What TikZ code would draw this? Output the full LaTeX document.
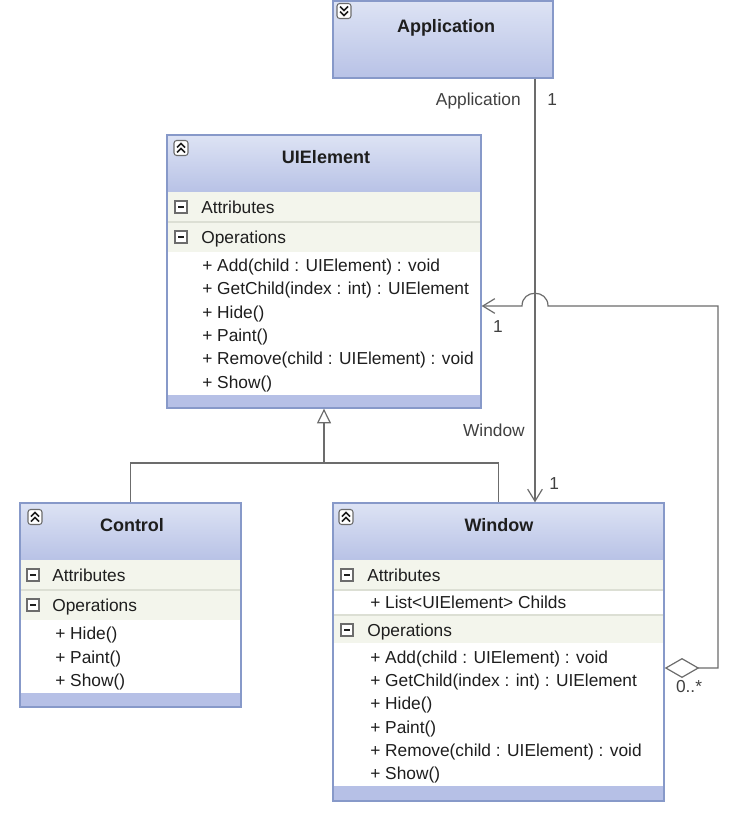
\documentclass[tikz,border=0pt]{standalone}
\usepackage{fontspec}
\setmainfont{Liberation Sans}
\usetikzlibrary{arrows.meta,fit,calc}

\definecolor{umlborder}{HTML}{8799C9}
\definecolor{umlheadtop}{HTML}{DDE3F4}
\definecolor{umlheadbot}{HTML}{B8C2E6}
\definecolor{umlrow}{HTML}{F3F5EC}
\definecolor{umlrowline}{HTML}{DCDFD4}
\definecolor{umlfoot}{HTML}{B6C0E6}
\definecolor{umlline}{HTML}{6C6C6C}
\definecolor{umltext}{HTML}{1E1E1E}

\tikzset{
  classbox/.style={draw=umlborder, line width=1pt, inner sep=0pt},
  head/.style={top color=umlheadtop, bottom color=umlheadbot},
  rowline/.style={draw=umlrowline, line width=0.8pt},
  title/.style={font=\fontsize{13.5}{16}\selectfont\bfseries, text=umltext, inner sep=0pt},
  sect/.style={font=\fontsize{13}{15}\selectfont, text=umltext, anchor=west,
    inner sep=0pt, text height=9pt, text depth=0pt},
  member/.style={sect},
  lbl/.style={font=\fontsize{13}{15}\selectfont, text=umltext!85, inner sep=0pt,
    text height=9pt, text depth=0pt},
  assoc/.style={draw=umlline, line width=0.9pt},
  barb/.style={-{Straight Barb[length=9pt, width=11pt]}},
  minusbox/.pic={
    \draw[umlline, line width=0.8pt, fill=white] (-6,-6) rectangle (6,6);
    \draw[umltext, line width=1pt] (-3,0) -- (3,0);
  },
  foldup/.pic={
    \draw[umlline, line width=0.8pt, fill=white, rounded corners=2pt] (-7,-7.5) rectangle (7,7.5);
    \draw[umltext, line width=1.1pt] (-4,-0.5) -- (0,-4.5) -- (4,-0.5);
    \draw[umltext, line width=1.1pt] (-4,4.5) -- (0,0.5) -- (4,4.5);
  },
  folddown/.pic={
    \draw[umlline, line width=0.8pt, fill=white, rounded corners=2pt] (-7,-7.5) rectangle (7,7.5);
    \draw[umltext, line width=1.1pt] (-4,-4.5) -- (0,-0.5) -- (4,-4.5);
    \draw[umltext, line width=1.1pt] (-4,0.5) -- (0,4.5) -- (4,0.5);
  }
}

\begin{document}
\begin{tikzpicture}[x=0.75pt, y=-0.75pt]
  \useasboundingbox (0,0) rectangle (736,817);

  % Application
  \shade[head] (333,1) rectangle (553,78);
  \node[classbox, fit={(333,1) (553,78)}] (app) {};
  \pic at (344,11) {folddown};
  \node[title] (appname) at (446,28) {Application};

  % UIElement
  \shade[head] (167,135) rectangle (481,192);
  \fill[umlrow] (167,192) rectangle (481,252);
  \draw[rowline] (167,222) -- (481,222);
  \fill[umlfoot] (167,395) rectangle (481,408);
  \node[classbox, fit={(167,135) (481,408)}] (ui) {};
  \pic at (181,148) {foldup};
  \node[title] (uiname) at (326,157) {UIElement};
  \pic at (181,207) {minusbox};   \node[sect] (uiattr) at (201,207) {Attributes};
  \pic at (181,237) {minusbox};   \node[sect] (uiops) at (201,237) {Operations};
  \node[member] (uiadd) at (202,265) {+ Add(child : UIElement) : void};
  \node[member] (uiget) at (202,288) {+ GetChild(index : int) : UIElement};
  \node[member] (uihide) at (202,312) {+ Hide()};
  \node[member] (uipaint) at (202,335) {+ Paint()};
  \node[member] (uiremove) at (202,358) {+ Remove(child : UIElement) : void};
  \node[member] (uishow) at (202,382) {+ Show()};

  % Control
  \shade[head] (20,503) rectangle (241,560);
  \fill[umlrow] (20,560) rectangle (241,620);
  \draw[rowline] (20,590) -- (241,590);
  \fill[umlfoot] (20,693) rectangle (241,707);
  \node[classbox, fit={(20,503) (241,707)}] (ctrl) {};
  \pic at (35,517) {foldup};
  \node[title] (ctrlname) at (132,525) {Control};
  \pic at (33,575) {minusbox};    \node[sect] (ctrlattr) at (52,575) {Attributes};
  \pic at (33,605) {minusbox};    \node[sect] (ctrlops) at (52,605) {Operations};
  \node[member] (ctrlhide) at (55,633) {+ Hide()};
  \node[member] (ctrlpaint) at (55,657) {+ Paint()};
  \node[member] (ctrlshow) at (55,680) {+ Show()};

  % Window
  \shade[head] (333,503) rectangle (664,560);
  \fill[umlrow] (333,560) rectangle (664,590);
  \fill[umlrow] (333,615) rectangle (664,643);
  \draw[rowline] (333,590) -- (664,590);
  \draw[rowline] (333,615) -- (664,615);
  \fill[umlfoot] (333,786) rectangle (664,801);
  \node[classbox, fit={(333,503) (664,801)}] (win) {};
  \pic at (346,517) {foldup};
  \node[title] (winname) at (499,525) {Window};
  \pic at (347,575) {minusbox};   \node[sect] (winattr) at (367,575) {Attributes};
  \node[member] (winchilds) at (370,602) {+ List<UIElement> Childs};
  \pic at (347,630) {minusbox};   \node[sect] (winops) at (367,630) {Operations};
  \node[member] (winadd) at (370,657) {+ Add(child : UIElement) : void};
  \node[member] (winget) at (370,680) {+ GetChild(index : int) : UIElement};
  \node[member] (winhide) at (370,703) {+ Hide()};
  \node[member] (winpaint) at (370,727) {+ Paint()};
  \node[member] (winremove) at (370,750) {+ Remove(child : UIElement) : void};
  \node[member] (winshow) at (370,773) {+ Show()};

  % generalization
  \coordinate (genjoin) at (324,463);
  \draw[assoc] (ctrl.north) |- (genjoin) -| (win.north);
  \draw[assoc, -{Triangle[length=11pt, width=10.5pt, fill=white]}] (genjoin) -- (ui.south);

  % Application -> Window
  \coordinate (appx) at (535,0);
  \draw[assoc, barb] (app.south -| appx) -- (win.north -| appx);
  \node[lbl, anchor=east] (approle) at (521,99) {Application};
  \node[lbl, anchor=west] (appmult) at (547,99) {1};
  \node[lbl, anchor=east] (winrole) at (525,430) {Window};
  \node[lbl, anchor=west] (winmult) at (549,483) {1};

  % Window <>-- UIElement, hop over the line above
  \coordinate (aggy) at (0,668);
  \coordinate (aggx) at (718,0);
  \coordinate (hopy) at (0,306);
  \draw[assoc, {Diamond[length=26pt, width=15pt, fill=white]}-{Straight Barb[length=9pt, width=11pt]}]
    (win.east |- aggy) -- (aggx |- aggy) -- (aggx |- hopy)
    -- ($(appx |- hopy)+(13,0)$) .. controls ($(appx |- hopy)+(13,-17)$) and ($(appx |- hopy)+(-13,-17)$) .. ($(appx |- hopy)+(-13,0)$)
    -- (ui.east |- hopy);
  \node[lbl] (uimult) at (498,326) {1};
  \node[lbl] (childmult) at (689,686) {0..*};
\end{tikzpicture}
\end{document}
